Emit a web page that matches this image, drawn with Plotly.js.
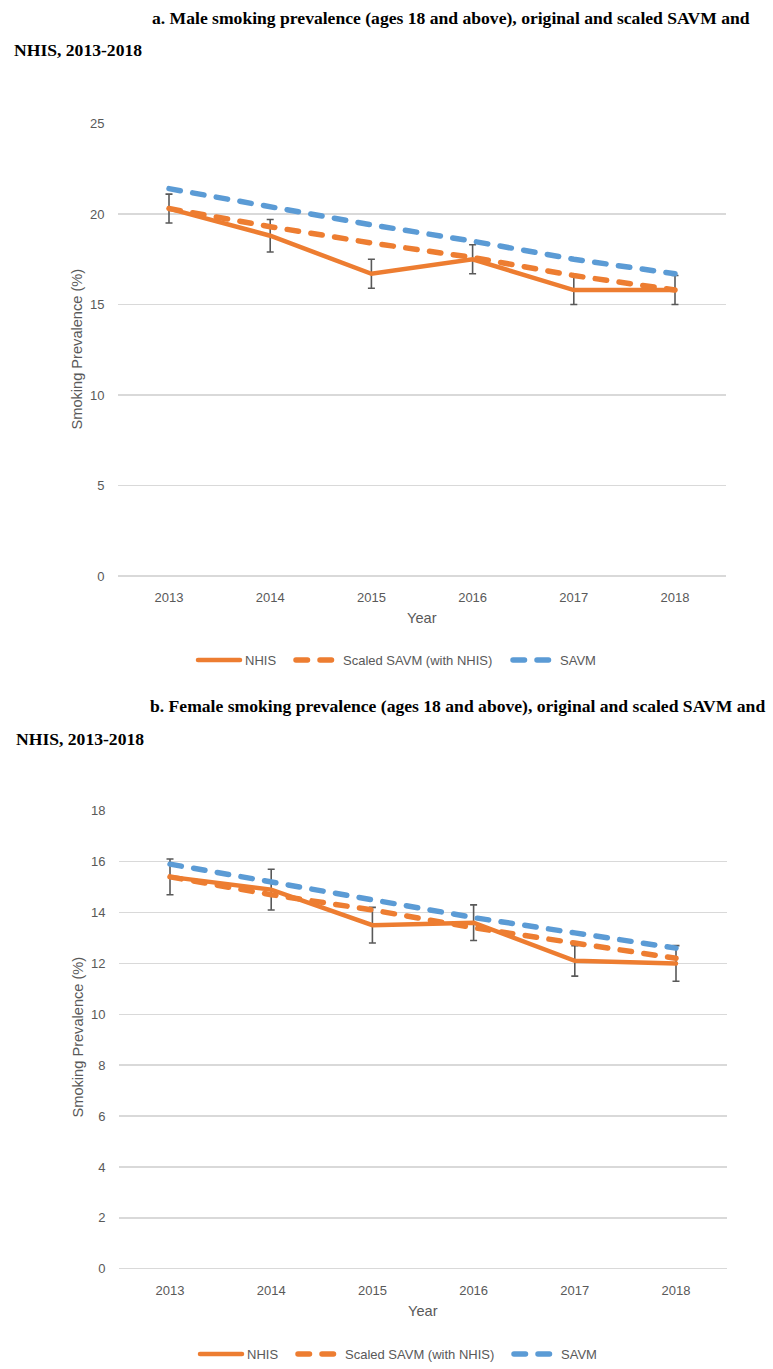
<!DOCTYPE html>
<html>
<head>
<meta charset="utf-8">
<script src="https://cdn.plot.ly/plotly-3.0.1.min.js"></script>
<style>
html, body { margin: 0; padding: 0; background: #fff; }
#chart { width: 773px; height: 1369px; }
.js-line { stroke-linecap: round !important; }
</style>
</head>
<body>
<div id="chart"></div>
<script>
// ---- data ----
const years = ['2013', '2014', '2015', '2016', '2017', '2018'];

const maleNHIS      = [20.3, 18.8, 16.7, 17.5, 15.8, 15.8];
const maleNHISErr   = [0.8, 0.9, 0.8, 0.8, 0.8, 0.8];
const maleScaled    = [20.3, 19.3, 18.4, 17.6, 16.6, 15.8];
const maleSAVM      = [21.4, 20.4, 19.4, 18.5, 17.5, 16.7];

const femaleNHIS    = [15.4, 14.9, 13.5, 13.6, 12.1, 12.0];
const femaleNHISErr = [0.7, 0.8, 0.7, 0.7, 0.6, 0.7];
const femaleScaled  = [15.4, 14.7, 14.1, 13.4, 12.8, 12.2];
const femaleSAVM    = [15.9, 15.2, 14.5, 13.8, 13.2, 12.6];

const seriesNames = ['NHIS', 'Scaled SAVM (with NHIS)', 'SAVM'];
const maleTicks   = [0, 5, 10, 15, 20, 25];
const femaleTicks = [0, 2, 4, 6, 8, 10, 12, 14, 16, 18];

const titleA1 = 'a. Male smoking prevalence (ages 18 and above), original and scaled SAVM and';
const titleA2 = 'NHIS, 2013-2018';
const titleB1 = 'b. Female smoking prevalence (ages 18 and above), original and scaled SAVM and';
const titleB2 = 'NHIS, 2013-2018';
const xTitle = 'Year';
const yTitle = 'Smoking Prevalence (%)';

// ---- styles ----
const ORANGE = '#ED7D31';
const BLUE = '#5B9BD5';
const GRAY = '#595959';
const GRID = '#D9D9D9';
const SANS = 'Liberation Sans, Arial, sans-serif';
const TICKFONT = {family: SANS, size: 13, color: GRAY};
const W = 773, H = 1369;
const px = v => v / W;
const py = v => 1 - v / H;
const DASH = '11.5px,12.5px';

function traces(nhis, err, scaled, savm, xa, ya, legs) {
  return [
    {x: years, y: nhis, name: seriesNames[0], type: 'scatter', mode: 'lines',
     xaxis: xa, yaxis: ya, legend: legs[0],
     line: {color: ORANGE, width: 4.5},
     error_y: {type: 'data', array: err, visible: true, color: GRAY, thickness: 1.6, width: 3.5}},
    {x: years, y: scaled, name: seriesNames[1], type: 'scatter', mode: 'lines',
     xaxis: xa, yaxis: ya, legend: legs[1],
     line: {color: ORANGE, width: 5.5, dash: DASH}},
    {x: years, y: savm, name: seriesNames[2], type: 'scatter', mode: 'lines',
     xaxis: xa, yaxis: ya, legend: legs[2],
     line: {color: BLUE, width: 5.5, dash: DASH}}
  ];
}

const data = [].concat(
  traces(maleNHIS, maleNHISErr, maleScaled, maleSAVM, 'x', 'y', ['legend', 'legend2', 'legend3']),
  traces(femaleNHIS, femaleNHISErr, femaleScaled, femaleSAVM, 'x2', 'y2', ['legend4', 'legend5', 'legend6'])
);

function xaxis(dom, anchor) {
  return {domain: dom, anchor: anchor, type: 'category', range: [-0.5, 5.5],
    showgrid: false, zeroline: false, showline: false, ticks: '',
    tickfont: TICKFONT, ticklabelstandoff: 12, fixedrange: true};
}
function yaxis(dom, anchor, rng, tv) {
  return {domain: dom, anchor: anchor, range: rng, tickvals: tv,
    showgrid: true, gridcolor: GRID, gridwidth: 1.5,
    zeroline: true, zerolinecolor: GRID, zerolinewidth: 1.5,
    showline: false, ticks: '', tickfont: TICKFONT, ticklabelstandoff: 13, fixedrange: true};
}

function legendAt(x, y) {
  return {orientation: 'h', xanchor: 'left', yanchor: 'middle', x: px(x - 4), y: py(y),
    font: {family: SANS, size: 13, color: GRAY},
    bgcolor: 'rgba(0,0,0,0)', itemwidth: 42};
}

const titleFont = {family: 'Liberation Serif, Times New Roman, serif', size: 17.6, color: '#000'};
const axFont = {family: SANS, size: 14.6, color: GRAY};

function ann(text, x, y, font, extra) {
  return Object.assign({text: text, x: px(x), y: py(y), xref: 'paper', yref: 'paper',
    showarrow: false, font: font}, extra || {});
}

const layout = {
  width: W, height: H,
  margin: {l: 0, r: 0, t: 0, b: 0},
  paper_bgcolor: '#fff', plot_bgcolor: '#fff',
  showlegend: true,
  xaxis: xaxis([px(118.4), px(725.6)], 'y'),
  yaxis: yaxis([py(578.7), py(124)], 'x', [0, 25], maleTicks),
  xaxis2: xaxis([px(119.4), px(726.6)], 'y2'),
  yaxis2: yaxis([py(1274.3), py(814.3)], 'x2', [0, 18], femaleTicks),
  legend: legendAt(197, 663),
  legend2: legendAt(295, 663),
  legend3: legendAt(512, 663),
  legend4: legendAt(199, 1360),
  legend5: legendAt(297, 1360),
  legend6: legendAt(513, 1360),
  annotations: [
    ann('<b>' + titleA1 + '</b>', 150, 18, titleFont, {xanchor: 'left', yanchor: 'middle'}),
    ann('<b>' + titleA2 + '</b>', 12, 50, titleFont, {xanchor: 'left', yanchor: 'middle'}),
    ann('<b>' + titleB1 + '</b>', 148, 709, titleFont, {xanchor: 'left', yanchor: 'middle'}),
    ann('<b>' + titleB2 + '</b>', 14, 742, titleFont, {xanchor: 'left', yanchor: 'middle'}),
    ann(xTitle, 421.5, 621, axFont, {xanchor: 'center', yanchor: 'middle'}),
    ann(xTitle, 423, 1317, axFont, {xanchor: 'center', yanchor: 'middle'}),
    ann(yTitle, 77, 351, axFont, {xanchor: 'center', yanchor: 'middle', textangle: -90}),
    ann(yTitle, 78, 1042, axFont, {xanchor: 'center', yanchor: 'middle', textangle: -90})
  ]
};

Plotly.newPlot('chart', data, layout, {staticPlot: true, displayModeBar: false});
</script>
</body>
</html>
